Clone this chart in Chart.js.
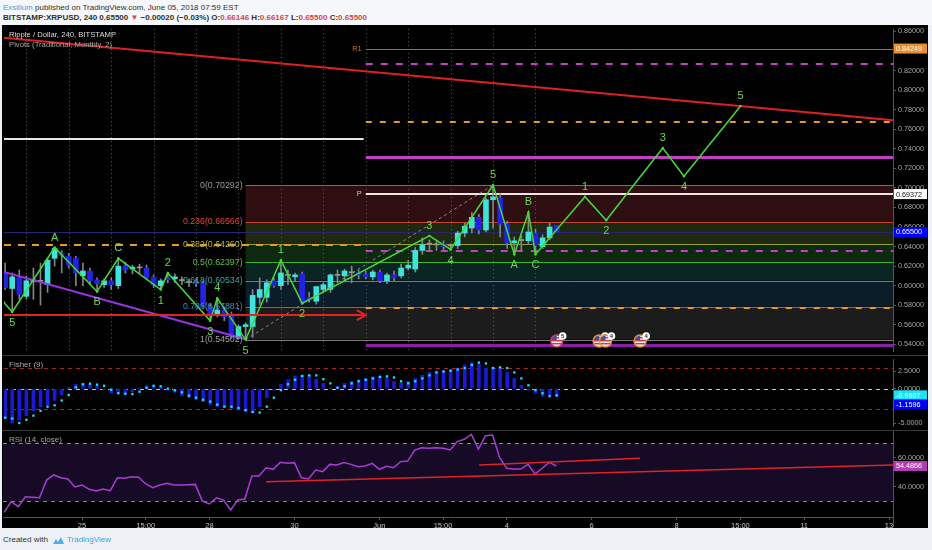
<!DOCTYPE html>
<html>
<head>
<meta charset="utf-8">
<title>XRPUSD 240</title>
<script src="https://cdn.jsdelivr.net/npm/chart.js@4.4.1/dist/chart.umd.min.js"></script>
<style>
  body { margin: 0; width: 932px; height: 550px; background: #edf1f6; overflow: hidden; position: relative; font-family: 'Liberation Sans', Arial, sans-serif; }
  #head { position: absolute; left: 0; top: 0; width: 932px; height: 25px; background: #f5f7fa; }
  .line { position: absolute; left: 3px; white-space: nowrap; color: #2f2f2f; font-size: 8px; }
  #l1 { top: 3px; }
  #l2 { top: 13px; font-weight: bold; }
  .red { color: #d9443f; }
  .blue { color: #3fa3dd; }
  #panel { position: absolute; left: 2px; top: 25px; width: 926px; height: 503px; background: #000; }
  canvas { position: absolute; left: 0; }
  .sep { position: absolute; left: 2px; width: 926px; height: 1px; background: #3a3a3a; }
  #stub { position: absolute; left: 893px; top: 517px; width: 1px; height: 10px; background: #555; }
  #foot { position: absolute; left: 3px; top: 535px; font-size: 8px; color: #333; white-space: nowrap; }
  #foot svg { vertical-align: -3px; margin: 0 2px 0 4px; }
</style>
</head>
<body>
<div id="head">
  <div class="line" id="l1"><span class="blue">Exsilium</span> published on TradingView.com, June 05, 2018 07:59 EST</div>
  <div class="line" id="l2">BITSTAMP:XRPUSD, 240 0.65500 <span class="red">▼</span> −0.00020 (−0.03%) O:<span class="red">0.66146</span> H:<span class="red">0.66167</span> L:<span class="red">0.65500</span> C:<span class="red">0.65500</span></div>
</div>
<div id="panel"></div>
<canvas id="main" width="932" height="330" style="top:25px"></canvas>
<canvas id="fisher" width="932" height="75" style="top:355px"></canvas>
<canvas id="rsi" width="932" height="98" style="top:430px"></canvas>
<div class="sep" style="top:355px"></div>
<div class="sep" style="top:430px"></div>
<div id="stub"></div>
<div id="foot">Created with<svg width="13" height="9" viewBox="0 0 13 9"><path d="M1 8 L4 3 L6 6 L9 1 L12 8 Z" fill="#4fb0e8"/></svg><span class="blue">TradingView</span></div>

<script>
// ---------- data (4h bars, bar 0 = 25 May) ----------
const firstBar = -11;
const candleOpen = [
  .6131,.5972,.6081,.5892,.6041,.6046,.6011,.6281,.6331,.6301,
  .6281,.6101,.6151,.6061,.6011,.6051,.6001,.6201,.6171,.6183,
  .6181,.6091,.6001,.6081,.6071,.6053,.6033,.6041,.6031,.5782,
  .5702,.5752,.5712,.5463,.5583,.5583,.5882,.5882,.6051,.6001,
  .6106,.6091,.6121,.5882,.5842,.5962,.5962,.6106,.6101,.6133,
  .6131,.6121,.6091,.6141,.6051,.6111,.6101,.6181,.6171,.6361,
  .6425,.6418,.6430,.6408,.6411,.6539,.6590,.6700,.6570,.6879,
  .6899,.6630,.6440,.6462,.6460,.6539,.6400,.6490,.66146];
const candleHigh = [
  .6231,.6131,.6161,.6101,.6181,.6231,.6281,.6391,.6361,.6331,
  .6301,.6231,.6181,.6081,.6071,.6081,.6281,.6241,.6211,.6221,
  .6211,.6111,.6071,.6131,.6121,.6091,.6071,.6071,.6051,.5812,
  .5862,.5782,.5732,.5602,.5622,.5962,.6081,.6061,.6081,.6240,
  .6161,.6131,.6141,.5932,.5972,.6031,.6121,.6161,.6171,.6201,
  .6161,.6151,.6161,.6161,.6131,.6151,.6221,.6261,.6391,.6490,
  .6470,.6450,.6460,.6430,.6559,.6640,.6749,.6730,.6899,.7029,
  .6939,.6660,.6500,.6510,.6749,.6580,.6520,.6640,.66167];
const candleLow = [
  .5962,.5732,.5862,.5862,.5862,.5802,.5932,.6201,.6131,.6181,
  .6001,.6001,.6011,.5932,.5982,.5962,.5972,.6131,.6121,.6131,
  .6071,.5982,.5962,.6031,.6031,.6011,.5992,.5992,.5782,.5642,
  .5682,.5642,.5463,.5455,.5450,.5473,.5812,.5832,.5982,.5962,
  .6011,.6041,.5812,.5832,.5812,.5942,.5932,.6031,.6041,.6031,
  .6071,.6071,.6061,.6031,.6021,.6051,.6081,.6161,.6141,.6321,
  .6361,.6361,.6370,.6360,.6381,.6500,.6540,.6530,.6550,.6590,
  .6500,.6381,.6321,.6361,.6420,.6320,.6381,.6470,.6550];
const candleClose = [
  .5982,.6091,.5912,.6051,.6061,.6046,.6261,.6381,.6311,.6211,
  .6131,.6151,.6051,.6021,.6051,.6011,.6201,.6161,.6191,.6183,
  .6081,.6011,.6051,.6061,.6091,.6053,.6033,.6021,.5802,.5702,
  .5752,.5682,.5483,.5583,.5602,.5902,.5962,.6031,.6001,.6131,
  .6106,.6111,.5832,.5862,.5992,.6011,.6111,.6106,.6151,.6133,
  .6111,.6091,.6141,.6051,.6111,.6081,.6181,.6211,.6361,.6421,
  .6425,.6418,.6400,.6408,.6539,.6609,.6700,.6570,.6879,.6909,
  .6630,.6440,.6460,.6462,.6550,.6411,.6490,.6600,.6550];

const fisherVals = [
  -4.32,-4.97,-4.5,-3.9,-3.2,-2.6,-2.4,-1.7,-0.9,0.2,
  0.65,0.73,0.6,0.43,-0.13,-0.65,-0.73,-0.78,-0.43,0.13,
  0.43,0.35,0.02,-0.22,-0.52,-1.0,-1.3,-1.6,-1.86,-2.3,
  -2.6,-2.6,-2.8,-3.1,-3.37,-3.45,-2.6,-1.3,-0.2,0.65,
  1.3,1.86,1.94,1.94,1.38,0.78,0.13,0.35,0.78,1.08,
  1.3,1.5,1.73,1.8,1.64,1.08,0.78,1.08,1.5,1.94,
  2.37,2.5,2.6,2.8,3.0,3.45,3.8,3.67,3.0,3.1,
  3.0,2.37,1.5,0.5,-0.2,-0.65,-1.08,-0.9607,-1.1596];
const triggerVals = [
  -4.2,-4.32,-4.97,-4.5,-3.9,-3.2,-2.6,-2.4,-1.7,-0.9,
  0.2,0.65,0.73,0.6,0.43,-0.13,-0.65,-0.73,-0.78,-0.43,
  0.13,0.43,0.35,0.02,-0.22,-0.52,-1.0,-1.3,-1.6,-1.86,
  -2.3,-2.6,-2.6,-2.8,-3.1,-3.37,-3.45,-2.6,-1.3,-0.2,
  0.65,1.3,1.86,1.94,1.94,1.38,0.78,0.13,0.35,0.78,
  1.08,1.3,1.5,1.73,1.8,1.64,1.08,0.78,1.08,1.5,
  1.94,2.37,2.5,2.6,2.8,3.0,3.45,3.8,3.67,3.0,
  3.1,3.0,2.37,1.5,0.5,-0.2,-0.65,-1.08,-0.9607];
const rsiVals = [
  22.5,29.9,26.4,33.3,33.0,32.6,44.8,48.3,46.4,45.5,
  40.0,41.4,38.4,37.2,38.6,37.5,46.4,46.0,47.1,46.7,
  42.1,39.5,41.4,42.5,41.4,41.4,41.6,41.8,30.3,28.3,
  32.6,31.0,24.1,31.0,31.7,47.6,47.6,53.3,52.2,57.0,
  56.3,56.8,46.4,45.5,51.7,50.6,55.6,55.2,56.8,55.6,
  54.0,54.5,56.3,52.2,54.3,53.3,57.5,57.9,65.5,67.1,
  66.7,67.1,66.7,65.5,71.3,72.9,76.3,66.2,75.4,75.9,
  60.2,52.9,52.4,52.4,55.6,49.0,52.9,57.0,54.4866];

const dayTickBars = [0, 9, 18, 30, 42, 51, 60, 72, 84, 93, 102, 114];
const dayTickText = ['25', '15:00', '28', '30', 'Jun', '15:00', '4', '6', '8', '15:00', '11', '13'];
const gridBars = [-8, -2, 4, 10, 16, 22, 28, 34, 40, 46, 52, 58, 64];
const priceTicks = [0.54, 0.56, 0.58, 0.60, 0.62, 0.64, 0.66, 0.68, 0.70, 0.72, 0.74, 0.76, 0.78, 0.80, 0.82, 0.84, 0.86];
const fisherTicks = [2.5, 0, -2.5, -5];
const rsiTicks = [60, 40];

// Elliott wave count
const waveBars   = [-11.2, -10, -4, 2, 5, 11, 12, 18, 19, 23, 28, 31, 49, 52, 58, 61, 63, 64, 71, 74, 82, 85, 93];
const wavePrices = [0.5832, 0.5732, 0.6391, 0.5942, 0.6281, 0.5962, 0.6131, 0.5642, 0.5872, 0.5450, 0.6261, 0.5822,
                    0.6510, 0.6371, 0.7029, 0.6321, 0.6750, 0.6321, 0.6910, 0.6670, 0.7408, 0.7119, 0.7837];
const waveText   = ['', '5', 'A', 'B', 'C', '1', '2', '3', '4', '5', '1', '2', '3', '4', '5', 'A', 'B', 'C', '1', '2', '3', '4', '5'];

// fib retracement
const fibStartBar = 23, fibHigh = 0.70292, fibLow = 0.54502;
const fibRatios = [0, 0.236, 0.382, 0.5, 0.618, 0.786, 1];

// pivots (June) and previous month levels
const pivotStartBar = 40;
const pivotLevels = [0.84249, 0.8266, 0.7677, 0.7318, 0.69372, 0.6353, 0.5772, 0.5398];
const mayEndBar = 39.7;
const mayLevels = [0.7498, 0.6420];
const arrowLevel = 0.5699, arrowEndBar = 40;
const lastPrice = 0.655;

// drawn trend lines
const redTrendBars = [-11.16, 114.56], redTrendPrices = [0.8535, 0.7692];
const purpleTrendBars = [-11.16, 23], purpleTrendPrices = [0.6142, 0.5453];
const fibDiagBars = [23, 58], fibDiagPrices = [0.54502, 0.70292];
const rsiLowBars = [26, 114.56], rsiLowVals = [43.7, 55.2];
const rsiUpBars = [56.1, 78.8], rsiUpVals = [55.2, 59.8];

const eventBars = [67, 73, 73.9, 78.8];
const eventBadge = ['5', '3', '4', '4'];

const xMin = -11.16, xMax = 114.56;

// ---------- styles ----------
const FONT = "'Liberation Sans', Arial, sans-serif";
const FIB_FILL = ['#2e0e10', '#1f2810', '#0d2a10', '#0b2622', '#0b1d29', '#1c1c1c'];
const FIB_LINE = ['#707070', '#c4452a', '#8fa02f', '#3fb52e', '#22a38e', '#2b86b0', '#7a7a7a'];
const FIB_TEXT = ['#9c9c9c', '#db4a3a', '#b3b53a', '#5cc24a', '#3aa89a', '#3a8fc0', '#a2a2a2'];
const PIVOT_STYLE = [
  { c: '#b5652e', w: 1, d: [] }, { c: '#c63ec6', w: 2, d: [7, 8] }, { c: '#e69a2a', w: 2, d: [6, 8] },
  { c: '#c63ec6', w: 3, d: [] }, { c: '#f3e4e4', w: 2, d: [] }, { c: '#c63ec6', w: 2, d: [7, 8] },
  { c: '#e69a2a', w: 2, d: [6, 8] }, { c: '#8a1fa8', w: 3, d: [] }];
const MAY_STYLE = [{ c: '#e6e6e6', w: 2, d: [] }, { c: '#e69a2a', w: 2, d: [7, 7] }];

Chart.defaults.font.family = FONT;
Chart.defaults.color = '#aaa';

const barIdx = candleOpen.map((_, k) => firstBar + k);
const fibLevel = k => fibHigh - fibRatios[k] * (fibHigh - fibLow);
const pts = (xs, ys) => xs.map((v, k) => ({ x: v, y: ys[k] }));

function hline(ctx, x, y, b0, b1, v, color, w, dash) {
  const py = Math.round(y.getPixelForValue(v)) + (w % 2 ? 0.5 : 0);
  ctx.strokeStyle = color; ctx.lineWidth = w; ctx.setLineDash(dash);
  ctx.beginPath(); ctx.moveTo(x.getPixelForValue(b0), py); ctx.lineTo(x.getPixelForValue(b1), py); ctx.stroke();
  ctx.setLineDash([]);
}

function priceBox(ctx, py, text, bg, fg) {
  ctx.fillStyle = bg; ctx.fillRect(894, py - 5, 33, 10);
  ctx.fillStyle = fg; ctx.font = '7.2px ' + FONT; ctx.textAlign = 'left'; ctx.textBaseline = 'middle';
  ctx.fillText(text, 896, py + 0.5);
}

function usIcon(ctx, cx, cy, ring, badge) {
  ctx.save();
  ctx.beginPath(); ctx.arc(cx, cy, 6, 0, Math.PI * 2); ctx.fillStyle = '#e8e8f2'; ctx.fill(); ctx.clip();
  ctx.fillStyle = '#d23a3a';
  for (let s = -4; s <= 4; s += 3) ctx.fillRect(cx - 6, cy + s, 12, 1.4);
  ctx.fillStyle = '#3a4fa8'; ctx.fillRect(cx - 6, cy - 6, 6, 5);
  ctx.restore();
  ctx.beginPath(); ctx.arc(cx, cy, 6, 0, Math.PI * 2); ctx.strokeStyle = ring; ctx.lineWidth = 1.5; ctx.stroke();
  ctx.beginPath(); ctx.arc(cx + 6, cy - 5, 3.8, 0, Math.PI * 2); ctx.fillStyle = '#fff'; ctx.fill();
  ctx.fillStyle = '#333'; ctx.font = 'bold 6px ' + FONT; ctx.textAlign = 'center'; ctx.textBaseline = 'middle';
  ctx.fillText(badge, cx + 6, cy - 4.6);
}

function xAxis(show) {
  return {
    type: 'linear', min: xMin, max: xMax, offset: false, display: show,
    grid: { display: show, drawOnChartArea: false, tickLength: 3, color: '#555' },
    border: { color: '#555' },
    ticks: { autoSkip: false, maxRotation: 0, minRotation: 0, padding: 1, color: '#c4c4c4', font: { size: 7.5 },
      callback: (v, k) => dayTickText[k] },
    afterBuildTicks: s => { s.ticks = dayTickBars.map(v => ({ value: v })); },
    afterFit: s => { if (show) s.height = 11; s.paddingLeft = 0; s.paddingRight = 0; }
  };
}

function yAxis(min, max, ticks, digits) {
  return {
    position: 'right', min, max,
    grid: { drawOnChartArea: false, tickLength: 3, color: '#555' },
    border: { color: '#555' },
    ticks: { color: '#a8a8a8', font: { size: 7.2 }, padding: 2, callback: v => v.toFixed(digits) },
    afterBuildTicks: s => { s.ticks = ticks.map(v => ({ value: v })); },
    afterFit: s => { s.width = 39; s.paddingTop = 0; s.paddingBottom = 0; }
  };
}

const common = {
  responsive: false, animation: false, events: [],
  layout: { padding: { left: 3, right: 0, top: 0, bottom: 0 } },
  plugins: { legend: { display: false }, tooltip: { enabled: false } }
};

// ---------- main price pane ----------
const mainDeco = {
  id: 'mainDeco',
  beforeDatasetsDraw(chart) {
    const { ctx, chartArea: a, scales: { x, y } } = chart;
    ctx.save();
    ctx.beginPath(); ctx.rect(a.left, a.top, a.width, a.height); ctx.clip();
    const fx = x.getPixelForValue(fibStartBar);
    for (let k = 0; k < fibRatios.length - 1; k++) {
      const y0 = y.getPixelForValue(fibLevel(k)), y1 = y.getPixelForValue(fibLevel(k + 1));
      ctx.fillStyle = FIB_FILL[k];
      ctx.fillRect(fx, y0, a.right - fx, y1 - y0);
    }
    ctx.strokeStyle = '#3b5c9c'; ctx.lineWidth = 1; ctx.setLineDash([1, 3]);
    gridBars.forEach(b => {
      const px = Math.round(x.getPixelForValue(b)) + 0.5;
      ctx.beginPath(); ctx.moveTo(px, a.top); ctx.lineTo(px, a.bottom); ctx.stroke();
    });
    ctx.setLineDash([]);
    hline(ctx, x, y, xMin, xMax, lastPrice, '#26266f', 1, []);
    fibRatios.forEach((r, k) => hline(ctx, x, y, fibStartBar, xMax, fibLevel(k), FIB_LINE[k], 1, []));
    mayLevels.forEach((p, k) => hline(ctx, x, y, xMin, mayEndBar, p, MAY_STYLE[k].c, MAY_STYLE[k].w, MAY_STYLE[k].d));
    pivotLevels.forEach((p, k) => hline(ctx, x, y, pivotStartBar, xMax, p, PIVOT_STYLE[k].c, PIVOT_STYLE[k].w, PIVOT_STYLE[k].d));
    ctx.restore();
  },
  afterDatasetsDraw(chart) {
    const { ctx, chartArea: a, scales: { x, y } } = chart;
    ctx.save();
    // red arrow
    hline(ctx, x, y, xMin, arrowEndBar, arrowLevel, '#e32222', 2, []);
    const tx = x.getPixelForValue(arrowEndBar), ty = y.getPixelForValue(arrowLevel);
    ctx.strokeStyle = '#e32222'; ctx.lineWidth = 2;
    ctx.beginPath(); ctx.moveTo(tx - 9, ty - 5); ctx.lineTo(tx, ty); ctx.lineTo(tx - 9, ty + 5); ctx.stroke();
    // wave labels
    ctx.font = '11px ' + FONT; ctx.textAlign = 'center'; ctx.textBaseline = 'middle'; ctx.fillStyle = '#6ad84c';
    waveBars.forEach((b, k) => {
      if (!waveText[k]) return;
      const peak = wavePrices[k] > wavePrices[k - 1];
      const py = y.getPixelForValue(wavePrices[k]) + (peak ? -10 : 11);
      ctx.fillText(waveText[k], x.getPixelForValue(b), py);
    });
    // fib labels
    ctx.font = '8.8px ' + FONT; ctx.textAlign = 'right';
    const fx = x.getPixelForValue(fibStartBar) - 3;
    fibRatios.forEach((r, k) => {
      ctx.fillStyle = FIB_TEXT[k];
      ctx.fillText(r + '(' + fibLevel(k).toFixed(5) + ')', fx, y.getPixelForValue(fibLevel(k)) + 0.5);
    });
    // pivot names
    ctx.font = '7.5px ' + FONT;
    const px0 = x.getPixelForValue(pivotStartBar) - 4;
    ctx.fillStyle = '#c0703a'; ctx.fillText('R1', px0, y.getPixelForValue(pivotLevels[0]));
    ctx.fillStyle = '#c8c8c8'; ctx.fillText('P', px0, y.getPixelForValue(pivotLevels[4]));
    // events
    eventBars.forEach((b, k) => usIcon(ctx, x.getPixelForValue(b), a.bottom - 10, k === 0 ? '#cf3a6e' : '#e2913a', eventBadge[k]));
    ctx.restore();
  },
  afterDraw(chart) {
    const { ctx, scales: { y } } = chart;
    ctx.save();
    ctx.font = '7.7px ' + FONT; ctx.textAlign = 'left'; ctx.textBaseline = 'middle';
    ctx.fillStyle = '#dcdcdc'; ctx.fillText('Ripple / Dollar, 240, BITSTAMP', 9, 10);
    ctx.fillStyle = '#a8a8a8'; ctx.fillText('Pivots (Traditional, Monthly, 2)', 9, 20);
    priceBox(ctx, y.getPixelForValue(pivotLevels[0]), pivotLevels[0].toFixed(5), '#e8902c', '#fff');
    priceBox(ctx, y.getPixelForValue(pivotLevels[4]), pivotLevels[4].toFixed(5), '#ffffff', '#111');
    priceBox(ctx, y.getPixelForValue(lastPrice), lastPrice.toFixed(5), '#0000ff', '#fff');
    ctx.restore();
  }
};

new Chart(document.getElementById('main'), {
  type: 'bar',
  data: {
    datasets: [
      { type: 'line', order: 0, data: pts(waveBars, wavePrices), borderColor: '#45d93a', borderWidth: 1.5,
        pointRadius: 1.2, pointBackgroundColor: '#45d93a', pointBorderWidth: 0, tension: 0 },
      { type: 'line', order: 1, data: pts(redTrendBars, redTrendPrices), borderColor: '#e02020', borderWidth: 2, pointRadius: 0 },
      { type: 'line', order: 1, data: pts(purpleTrendBars, purpleTrendPrices), borderColor: '#9a32e6', borderWidth: 2, pointRadius: 0 },
      { type: 'line', order: 1, data: pts(fibDiagBars, fibDiagPrices), borderColor: '#8a8a8a', borderWidth: 1, borderDash: [3, 3], pointRadius: 0 },
      { order: 2, grouped: false, barThickness: 5, minBarLength: 1,
        data: barIdx.map((b, k) => ({ x: b, y: [candleOpen[k], candleClose[k]] })),
        backgroundColor: barIdx.map((b, k) => candleClose[k] > candleOpen[k] ? '#3de3dc' : candleClose[k] < candleOpen[k] ? '#2323e6' : '#9a9a9a') },
      { order: 3, grouped: false, barThickness: 1,
        data: barIdx.map((b, k) => ({ x: b, y: [candleLow[k], candleHigh[k]] })), backgroundColor: '#858585' }
    ]
  },
  options: { ...common, scales: { x: xAxis(false), y: yAxis(0.53332, 0.86249, priceTicks, 5) } },
  plugins: [mainDeco]
});

// ---------- Fisher pane ----------
const fisherDeco = {
  id: 'fisherDeco',
  beforeDatasetsDraw(chart) {
    const { ctx, scales: { x, y } } = chart;
    ctx.save();
    hline(ctx, x, y, xMin, xMax, 3, '#a32828', 1, [4, 4]);
    hline(ctx, x, y, xMin, xMax, -3, '#a32828', 1, [4, 4]);
    hline(ctx, x, y, xMin, xMax, 0, '#c9c79c', 1, [4, 4]);
    ctx.restore();
  },
  afterDraw(chart) {
    const { ctx, scales: { y } } = chart;
    ctx.save();
    ctx.font = '8px ' + FONT; ctx.textAlign = 'left'; ctx.textBaseline = 'middle'; ctx.fillStyle = '#a8a8a8';
    ctx.fillText('Fisher (9)', 9, 10);
    const last = fisherVals.length - 1;
    const yT = y.getPixelForValue(triggerVals[last]);
    const yF = Math.max(y.getPixelForValue(fisherVals[last]), yT + 9);
    priceBox(ctx, yT, triggerVals[last].toFixed(4), '#19e3f5', '#fff');
    priceBox(ctx, yF, fisherVals[last].toFixed(4), '#0000ff', '#fff');
    ctx.restore();
  }
};

new Chart(document.getElementById('fisher'), {
  type: 'bar',
  data: {
    datasets: [
      { type: 'line', order: 0, data: pts(barIdx, triggerVals), showLine: false, pointStyle: 'rect',
        pointRadius: 1.6, pointBackgroundColor: '#1ee6f0', pointBorderWidth: 0 },
      { order: 1, barThickness: 3, data: pts(barIdx, fisherVals), backgroundColor: '#1a1ad6' }
    ]
  },
  options: { ...common, scales: { x: xAxis(false), y: yAxis(-5.402, 4.313, fisherTicks, 4) } },
  plugins: [fisherDeco]
});

// ---------- RSI pane ----------
const rsiDeco = {
  id: 'rsiDeco',
  beforeDatasetsDraw(chart) {
    const { ctx, chartArea: a, scales: { x, y } } = chart;
    ctx.save();
    const y70 = y.getPixelForValue(70), y30 = y.getPixelForValue(30);
    ctx.fillStyle = '#170a27';
    ctx.fillRect(a.left, y70, a.width, y30 - y70);
    hline(ctx, x, y, xMin, xMax, 70, '#8a8a8a', 1, [4, 4]);
    hline(ctx, x, y, xMin, xMax, 30, '#8a8a8a', 1, [4, 4]);
    ctx.restore();
  },
  afterDraw(chart) {
    const { ctx, scales: { y } } = chart;
    ctx.save();
    ctx.font = '8px ' + FONT; ctx.textAlign = 'left'; ctx.textBaseline = 'middle'; ctx.fillStyle = '#a8a8a8';
    ctx.fillText('RSI (14, close)', 9, 10);
    const v = rsiVals[rsiVals.length - 1];
    priceBox(ctx, y.getPixelForValue(v), v.toFixed(4), '#b23cb4', '#fff');
    ctx.restore();
  }
};

new Chart(document.getElementById('rsi'), {
  type: 'line',
  data: {
    datasets: [
      { data: pts(rsiLowBars, rsiLowVals), borderColor: '#e02424', borderWidth: 1.5, pointRadius: 0 },
      { data: pts(rsiUpBars, rsiUpVals), borderColor: '#e02424', borderWidth: 1.5, pointRadius: 0 },
      { data: pts(barIdx, rsiVals), borderColor: '#a63ed2', borderWidth: 1.5, pointRadius: 0, tension: 0 }
    ]
  },
  options: { ...common, scales: { x: xAxis(true), y: yAxis(19.31, 79.31, rsiTicks, 4) } },
  plugins: [rsiDeco]
});
</script>
</body>
</html>
